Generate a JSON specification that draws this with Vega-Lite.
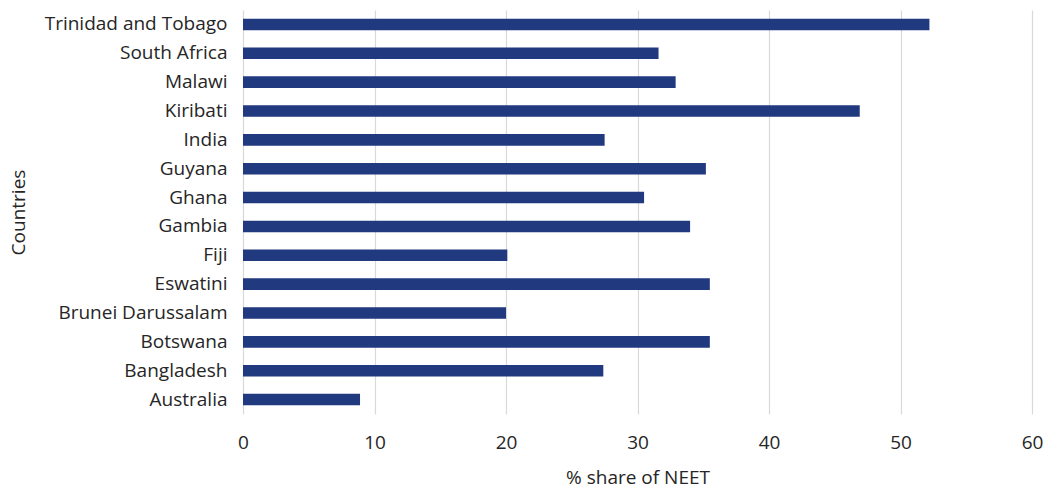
{
  "$schema": "https://vega.github.io/schema/vega-lite/v6.json",
  "width": 789,
  "height": 404,
  "autosize": {"type": "none"},
  "padding": {"left": 243, "top": 10, "right": 16, "bottom": 74},
  "background": "white",
  "config": {
    "view": {"stroke": null},
    "font": "Open Sans",
    "axis": {"labelFont": "Open Sans", "titleFont": "Open Sans", "labelColor": "#262626", "titleColor": "#262626", "labelFontSize": 19, "titleFontSize": 19, "titleFontWeight": "normal", "labelLimit": 400}
  },
  "data": {
    "values": [
      {"country": "Trinidad and Tobago", "value": 52.2},
      {"country": "South Africa", "value": 31.6},
      {"country": "Malawi", "value": 32.9},
      {"country": "Kiribati", "value": 46.9},
      {"country": "India", "value": 27.5},
      {"country": "Guyana", "value": 35.2},
      {"country": "Ghana", "value": 30.5},
      {"country": "Gambia", "value": 34.0},
      {"country": "Fiji", "value": 20.1},
      {"country": "Eswatini", "value": 35.5},
      {"country": "Brunei Darussalam", "value": 20.0},
      {"country": "Botswana", "value": 35.5},
      {"country": "Bangladesh", "value": 27.4},
      {"country": "Australia", "value": 8.9}
    ]
  },
  "mark": {"type": "bar", "color": "#21397f"},
  "encoding": {
    "y": {
      "field": "country",
      "type": "nominal",
      "sort": null,
      "title": "Countries",
      "scale": {"paddingInner": 0.6, "paddingOuter": 0.3},
      "axis": {"domain": false, "ticks": false, "grid": false, "labelPadding": 16, "titlePadding": 16}
    },
    "x": {
      "field": "value",
      "type": "quantitative",
      "title": "% share of NEET",
      "scale": {"domain": [0, 60], "nice": false},
      "axis": {"values": [0, 10, 20, 30, 40, 50, 60], "domain": false, "ticks": false, "grid": true, "gridColor": "#d9d9d9", "gridWidth": 1.2, "labelPadding": 19, "titlePadding": 16, "labelFlush": false}
    }
  }
}
